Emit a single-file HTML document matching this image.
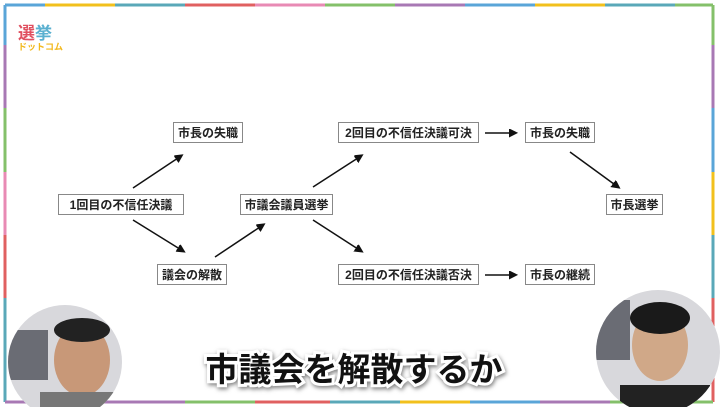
<!DOCTYPE html>
<html><head><meta charset="utf-8"><style>
body{margin:0;width:720px;height:407px;overflow:hidden;background:#fff;font-family:"Liberation Sans","Noto Sans CJK JP",sans-serif}
.n{position:absolute;border:1.5px solid #888;background:#fff;font-size:12px;font-weight:bold;color:#222;display:flex;align-items:center;justify-content:center;box-sizing:border-box;height:21px}
</style></head><body>
<svg width="720" height="407" style="position:absolute;left:0;top:0">
<defs><marker id="a" markerWidth="12" markerHeight="12" refX="6" refY="4" orient="auto" markerUnits="userSpaceOnUse"><path d="M0,0L8,4L0,8z" fill="#111" transform="scale(1.4) translate(-1.5,-1.2)"/></marker></defs>
<g stroke-width="3" fill="none">
<path d="M5,5H45" stroke="#5aa5d8"/><path d="M45,5H115" stroke="#f2c01c"/><path d="M115,5H185" stroke="#5aa8b8"/><path d="M185,5H255" stroke="#e06060"/><path d="M255,5H325" stroke="#e88ab4"/><path d="M325,5H395" stroke="#84c06a"/><path d="M395,5H465" stroke="#a878b4"/><path d="M465,5H535" stroke="#5aa5d8"/><path d="M535,5H605" stroke="#f2c01c"/><path d="M605,5H675" stroke="#5aa8b8"/><path d="M675,5H713" stroke="#84c06a"/>
<path d="M713,5V45" stroke="#84c06a"/><path d="M713,45V108" stroke="#a878b4"/><path d="M713,108V172" stroke="#5aa5d8"/><path d="M713,172V235" stroke="#f2c01c"/><path d="M713,235V298" stroke="#5aa8b8"/><path d="M713,298V402" stroke="#e06060"/>
<path d="M5,5V45" stroke="#5aa5d8"/><path d="M5,45V108" stroke="#a878b4"/><path d="M5,108V172" stroke="#84c06a"/><path d="M5,172V235" stroke="#e88ab4"/><path d="M5,235V298" stroke="#e06060"/><path d="M5,298V402" stroke="#5aa8b8"/>
<path d="M5,402H115" stroke="#a878b4"/><path d="M115,402H185" stroke="#a878b4"/><path d="M185,402H255" stroke="#84c06a"/><path d="M255,402H330" stroke="#e06060"/><path d="M330,402H400" stroke="#5aa8b8"/><path d="M400,402H470" stroke="#f2c01c"/><path d="M470,402H540" stroke="#5aa5d8"/><path d="M540,402H610" stroke="#a878b4"/><path d="M610,402H713" stroke="#84c06a"/>
</g>
<g stroke="#111" stroke-width="1.5" marker-end="url(#a)">
<line x1="133" y1="188" x2="181" y2="156"/><line x1="133" y1="220" x2="183" y2="251"/><line x1="215" y1="257" x2="263" y2="225"/><line x1="313" y1="187" x2="361" y2="156"/><line x1="313" y1="220" x2="361" y2="251"/><line x1="485" y1="133" x2="515" y2="133"/><line x1="485" y1="275" x2="515" y2="275"/><line x1="570" y1="152" x2="618" y2="187"/>
</g>
<clipPath id="c1"><circle cx="65" cy="362" r="57"/></clipPath>
<g clip-path="url(#c1)"><rect x="0" y="300" width="130" height="110" fill="#d8d8dc"/><rect x="8" y="330" width="40" height="50" fill="#6a6c74"/><ellipse cx="82" cy="360" rx="28" ry="36" fill="#c89878"/><ellipse cx="82" cy="330" rx="28" ry="12" fill="#222"/><rect x="40" y="392" width="90" height="20" fill="#777"/></g>
<clipPath id="c2"><circle cx="658" cy="352" r="62"/></clipPath>
<g clip-path="url(#c2)"><rect x="590" y="285" width="130" height="125" fill="#d8d8dc"/><rect x="590" y="300" width="40" height="60" fill="#6a6c74"/><ellipse cx="660" cy="345" rx="28" ry="36" fill="#d0a888"/><ellipse cx="660" cy="318" rx="30" ry="16" fill="#1a1a1a"/><rect x="620" y="385" width="90" height="25" fill="#222"/></g>
<text x="354" y="381" text-anchor="middle" font-size="33" font-weight="bold" fill="#111" stroke="#fff" stroke-width="6" paint-order="stroke" font-family="Liberation Sans,Noto Sans CJK JP,sans-serif" style="filter:drop-shadow(1px 2px 2px rgba(0,0,0,.5))">市議会を解散するか</text>
<text x="18" y="39" font-size="17" font-weight="bold" fill="#e05060" font-family="Noto Sans CJK JP,sans-serif">選</text><text x="35" y="39" font-size="17" font-weight="bold" fill="#5ab0d0" font-family="Noto Sans CJK JP,sans-serif">挙</text>
<text x="18" y="50" font-size="9" font-weight="bold" fill="#f2b81c" font-family="Noto Sans CJK JP,sans-serif">ドットコム</text>
</svg>
<div class="n" style="left:173px;top:122px;width:70px">市長の失職</div>
<div class="n" style="left:58px;top:194px;width:126px">1回目の不信任決議</div>
<div class="n" style="left:157px;top:264px;width:70px">議会の解散</div>
<div class="n" style="left:240px;top:194px;width:93px">市議会議員選挙</div>
<div class="n" style="left:338px;top:122px;width:141px">2回目の不信任決議可決</div>
<div class="n" style="left:338px;top:264px;width:141px">2回目の不信任決議否決</div>
<div class="n" style="left:525px;top:122px;width:70px">市長の失職</div>
<div class="n" style="left:606px;top:194px;width:57px">市長選挙</div>
<div class="n" style="left:525px;top:264px;width:70px">市長の継続</div>
</body></html>
